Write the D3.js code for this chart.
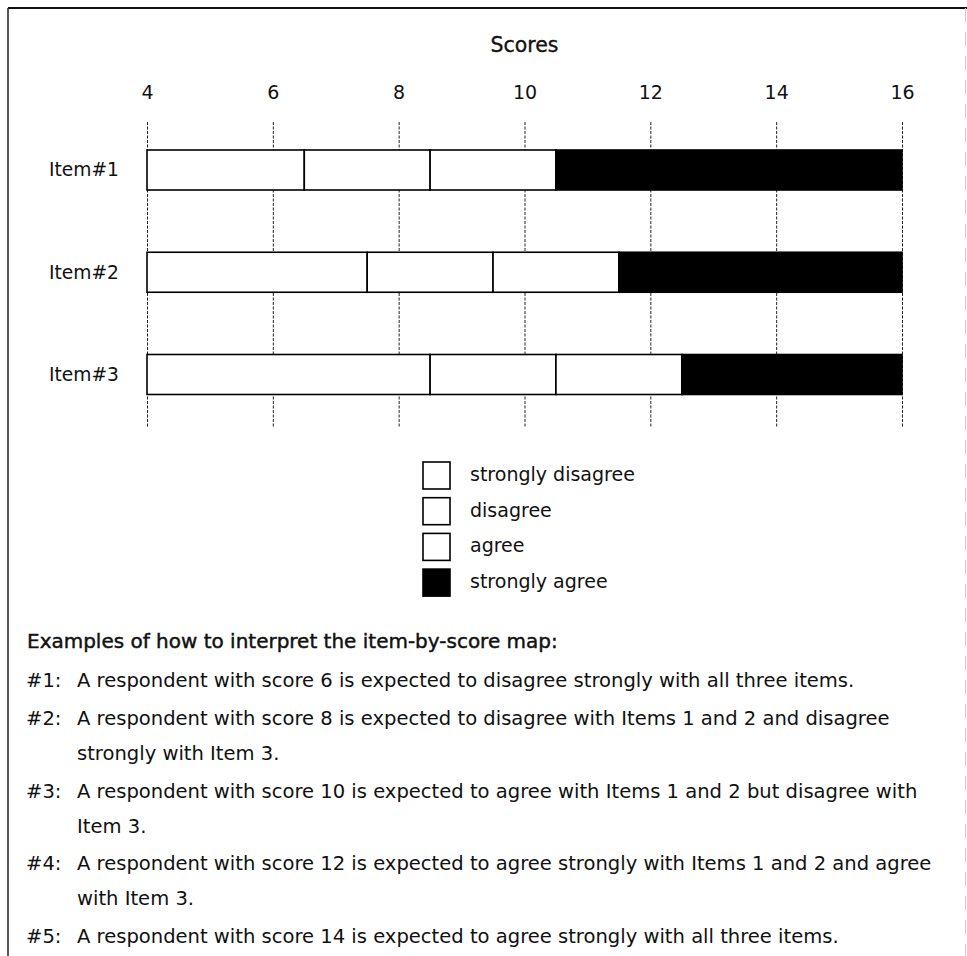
<!DOCTYPE html>
<html>
<head>
<meta charset="utf-8">
<script src="https://cdn.jsdelivr.net/npm/d3@7"></script>
<style>
  html, body { margin: 0; padding: 0; background: #fff; }
  svg { display: block; }
  text { font-family: "DejaVu Sans", "Open Sans", sans-serif; fill: #111; }
</style>
</head>
<body>
<svg id="chart" width="967" height="956"></svg>
<script>
// ---------- data ----------
const axisTitle = "Scores";
const scoreTicks = [4, 6, 8, 10, 12, 14, 16];
const scoreMin = 4;
const scoreMax = 16;
const items = ["Item#1", "Item#2", "Item#3"];
const categories = ["strongly disagree", "disagree", "agree", "strongly agree"];
const categoryFill = ["#ffffff", "#ffffff", "#ffffff", "#000000"];
// thresholds between consecutive response categories, per item
const item1Cuts = [6.5, 8.5, 10.5];
const item2Cuts = [7.5, 9.5, 11.5];
const item3Cuts = [8.5, 10.5, 12.5];
const exampleTitle = "Examples of how to interpret the item-by-score map:";
const exampleLabels = ["#1:", "#2:", "#3:", "#4:", "#5:"];
const exampleLines = [
  ["A respondent with score 6 is expected to disagree strongly with all three items."],
  ["A respondent with score 8 is expected to disagree with Items 1 and 2 and disagree", "strongly with Item 3."],
  ["A respondent with score 10 is expected to agree with Items 1 and 2 but disagree with", "Item 3."],
  ["A respondent with score 12 is expected to agree strongly with Items 1 and 2 and agree", "with Item 3."],
  ["A respondent with score 14 is expected to agree strongly with all three items."]
];

// ---------- helpers ----------
// scale a text selection's font-size so that a reference node reaches a target width
function fitSize(sel, refNode, target, base) {
  const w = refNode.getComputedTextLength();
  const fs = base * target / w;
  sel.attr("font-size", fs);
  return fs;
}

// ---------- layout ----------
const svg = d3.select("#chart");
const W = 967, H = 956;

// frame
svg.append("line").attr("x1", 8).attr("y1", 8).attr("x2", W).attr("y2", 8)
  .attr("stroke", "#111").attr("stroke-width", 2);
svg.append("line").attr("x1", 8).attr("y1", 8).attr("x2", 8).attr("y2", H)
  .attr("stroke", "#222").attr("stroke-width", 1.5);
svg.append("line").attr("x1", 965.5).attr("y1", 8).attr("x2", 965.5).attr("y2", H)
  .attr("stroke", "#ccc").attr("stroke-width", 1).attr("stroke-dasharray", "14,10");

const x = d3.scaleLinear().domain([scoreMin, scoreMax]).range([147, 902]);
const y = d3.scalePoint().domain(items).range([170, 374.5]);
const barH = 40;

// title
const title = svg.append("text").attr("x", (x(scoreMin) + x(scoreMax)) / 2).attr("y", 52)
  .attr("text-anchor", "middle").attr("font-size", 19)
  .attr("stroke", "#111").attr("stroke-width", 0.35).text(axisTitle);
fitSize(title, title.node(), 68, 19);

// tick labels
const topAxis = svg.append("g").attr("transform", "translate(0,107)")
  .call(d3.axisTop(x).tickValues(scoreTicks).tickSize(0).tickPadding(8).tickFormat(d3.format("d")));
topAxis.select(".domain").remove();
topAxis.selectAll("text").attr("font-size", 19).attr("font-family", null).attr("fill", "#111");

// dashed gridlines
const grid = svg.append("g").attr("transform", "translate(0,122)")
  .call(d3.axisBottom(x).tickValues(scoreTicks).tickSize(305).tickFormat(""));
grid.select(".domain").remove();
grid.selectAll("line").attr("stroke", "#222").attr("stroke-width", 1).attr("stroke-dasharray", "3,1.5");

// item labels
const leftAxis = svg.append("g").attr("transform", `translate(${x(scoreMin)},0)`)
  .call(d3.axisLeft(y).tickSize(0).tickPadding(28));
leftAxis.select(".domain").remove();
const itemText = leftAxis.selectAll("text").attr("font-size", 19).attr("font-family", null).attr("fill", "#111");
fitSize(itemText, itemText.node(), 70, 19);

// bars
const cutsByItem = [item1Cuts, item2Cuts, item3Cuts];
const segments = [];
items.forEach((it, i) => {
  const edges = [scoreMin, ...cutsByItem[i], scoreMax];
  for (let k = 0; k < categories.length; k++) {
    segments.push({ item: it, cat: k, x0: edges[k], x1: edges[k + 1] });
  }
});
svg.append("g").selectAll("rect").data(segments).join("rect")
  .attr("x", d => x(d.x0))
  .attr("y", d => y(d.item) - barH / 2)
  .attr("width", d => x(d.x1) - x(d.x0))
  .attr("height", barH)
  .attr("fill", d => categoryFill[d.cat])
  .attr("stroke", "#000")
  .attr("stroke-width", 1.6);

// legend
const lg = svg.append("g").attr("transform", "translate(423,462)");
const lgStep = 35.7;
lg.selectAll("rect").data(categories).join("rect")
  .attr("x", 0).attr("y", (d, i) => i * lgStep)
  .attr("width", 27).attr("height", 27)
  .attr("fill", (d, i) => categoryFill[i])
  .attr("stroke", "#000").attr("stroke-width", 1.6);
const lgText = lg.selectAll("text").data(categories).join("text")
  .attr("x", 47).attr("y", (d, i) => i * lgStep + 19)
  .attr("font-size", 18).text(d => d);
fitSize(lgText, lgText.node(), 165, 18);

// examples
const exTitle = svg.append("text").attr("x", 27).attr("y", 648)
  .attr("font-size", 18).attr("stroke", "#111").attr("stroke-width", 0.45).text(exampleTitle);
fitSize(exTitle, exTitle.node(), 531, 18);

const baselines = [687, 725, 798, 870, 943];
const lineGap = 35;
const ex = svg.append("g");
exampleLines.forEach((lines, i) => {
  ex.append("text").attr("class", "body lab").attr("x", 26).attr("y", baselines[i]).text(exampleLabels[i]);
  lines.forEach((ln, j) => {
    ex.append("text").attr("class", "body").attr("x", 77).attr("y", baselines[i] + j * lineGap).text(ln);
  });
});
const body = ex.selectAll("text.body").attr("font-size", 18);
const firstLine = ex.selectAll("text.body").filter(function () { return !this.classList.contains("lab"); }).node();
fitSize(body, firstLine, 778, 18);
</script>
</body>
</html>
